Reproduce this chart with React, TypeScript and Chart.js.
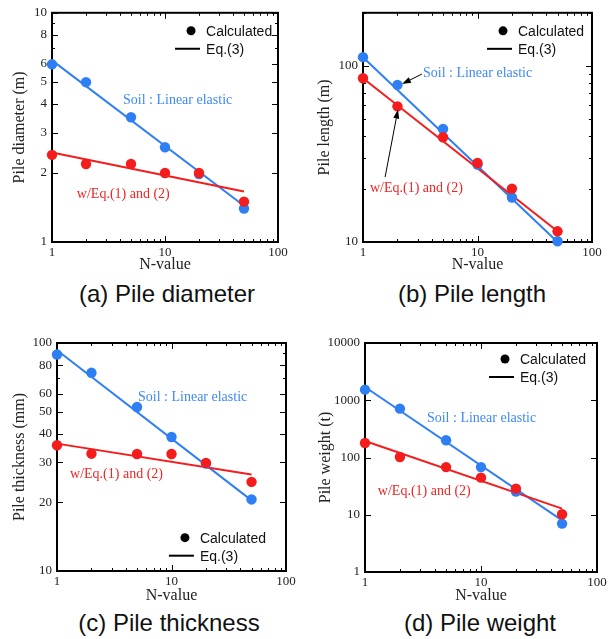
import React, { useEffect, useRef } from 'react';
import { Chart, registerables } from 'chart.js';

Chart.register(...registerables);

// ---------- data ----------
const nValues = [1, 2, 5, 10, 20, 50];
const fitN = [1, 50];

// (a) Pile diameter (m)
const diaLinear = [5.96, 4.98, 3.5, 2.59, 1.98, 1.4];
const diaEq = [2.4, 2.19, 2.19, 2.0, 2.0, 1.5];
const diaLinearFit = [6.2, 1.44];
const diaEqFit = [2.46, 1.66];
const diaTicks = [1, 2, 3, 4, 5, 6, 7, 8, 9, 10];
const diaLabels = [1, 2, 3, 4, 5, 6, 8, 10];

// (b) Pile length (m)
const lenLinear = [112, 78, 43.8, 27.5, 17.9, 10.1];
const lenEq = [85, 58.9, 39.3, 28.1, 20.1, 11.5];
const lenLinearFit = [112, 10.0];
const lenEqFit = [85, 11.5];
const lenTicks = [10, 20, 30, 40, 50, 60, 70, 80, 90, 100, 200];
const lenLabels = [10, 100];

// (c) Pile thickness (mm)
const thkLinear = [89, 74, 52.4, 38.7, 29.6, 20.6];
const thkEq = [35.6, 32.7, 32.6, 32.6, 29.8, 24.6];
const thkLinearFit = [92.9, 20.4];
const thkEqFit = [36.2, 26.5];
const thkTicks = [10, 20, 30, 40, 50, 60, 70, 80, 90, 100];
const thkLabels = [10, 20, 30, 40, 50, 60, 80, 100];

// (d) Pile weight (t)
const wgtLinear = [1531, 713, 200, 68, 25.5, 7.0];
const wgtEq = [179, 102, 68, 44.5, 28.6, 10.2];
const wgtLinearFit = [1703, 8.0];
const wgtEqFit = [194, 12.8];
const wgtTicks = [1, 10, 100, 1000, 10000];
const wgtLabels = [1, 10, 100, 1000, 10000];

const xTicks = [1, 2, 3, 4, 5, 6, 7, 8, 9, 10, 20, 30, 40, 50, 60, 70, 80, 90, 100];
const xLabels = [1, 10, 100];

const soilText = 'Soil : Linear elastic';
const eqText = 'w/Eq.(1) and (2)';
const legendTexts = ['Calculated', 'Eq.(3)'];

// ---------- styles ----------
const BLUE = '#2f7ff4';
const RED = '#f41c1c';
const BLUE_TEXT = '#3f89f2';
const RED_TEXT = '#ef2424';
const SERIF = '"Liberation Serif", "Times New Roman", serif';
const SANS = '"Liberation Sans", Arial, sans-serif';

type Pt = [number, number];
interface PanelCfg {
  key: string;
  left: number;
  top: number;
  width: number;
  height: number;
  pad: { left: number; top: number; right: number; bottom: number };
  yWidth: number;
  xHeight: number;
  yTitlePad: number;
  xTitlePad: number;
  yTitle: string;
  yMin: number;
  yMax: number;
  yTicks: number[];
  yLabels: number[];
  blue: number[];
  red: number[];
  blueFit: number[];
  redFit: number[];
  soilAt: Pt;
  eqAt: Pt;
  legendAt: Pt;
  arrows: { from: Pt; to: Pt }[];
  caption: string;
  capX: number;
  capY: number;
}

const panels: PanelCfg[] = [
  {
    key: 'a', left: 0, top: 0, width: 305, height: 275,
    pad: { left: 0, top: 12, right: 27, bottom: 0 }, yWidth: 52, xHeight: 33, yTitlePad: 10, xTitlePad: 1,
    yTitle: 'Pile diameter (m)', yMin: 1, yMax: 10, yTicks: diaTicks, yLabels: diaLabels,
    blue: diaLinear, red: diaEq, blueFit: diaLinearFit, redFit: diaEqFit,
    soilAt: [4.25, 4.14], eqAt: [1.66, 1.62], legendAt: [17.0, 8.35], arrows: [],
    caption: '(a) Pile diameter', capX: 167, capY: 294,
  },
  {
    key: 'b', left: 305, top: 0, width: 306, height: 275,
    pad: { left: 0, top: 10, right: 19, bottom: 0 }, yWidth: 58, xHeight: 33, yTitlePad: 10, xTitlePad: 1,
    yTitle: 'Pile length (m)', yMin: 10, yMax: 200, yTicks: lenTicks, yLabels: lenLabels,
    blue: lenLinear, red: lenEq, blueFit: lenLinearFit, redFit: lenEqFit,
    soilAt: [3.34, 91], eqAt: [1.15, 20.1], legendAt: [16.7, 158],
    arrows: [
      { from: [3.27, 89.8], to: [2.19, 78.9] },
      { from: [1.56, 23.4], to: [2.02, 56.5] },
    ],
    caption: '(b) Pile length', capX: 472, capY: 294,
  },
  {
    key: 'c', left: 0, top: 320, width: 305, height: 285,
    pad: { left: 0, top: 23, right: 19, bottom: 0 }, yWidth: 57, xHeight: 34, yTitlePad: 10, xTitlePad: 0,
    yTitle: 'Pile thickness (mm)', yMin: 10, yMax: 100, yTicks: thkTicks, yLabels: thkLabels,
    blue: thkLinear, red: thkEq, blueFit: thkLinearFit, redFit: thkEqFit,
    soilAt: [5.1, 58], eqAt: [1.3, 26.6], legendAt: [13.1, 14.0], arrows: [],
    caption: '(c) Pile thickness', capX: 169, capY: 623,
  },
  {
    key: 'd', left: 305, top: 320, width: 306, height: 285,
    pad: { left: 0, top: 23, right: 14, bottom: 0 }, yWidth: 60, xHeight: 33, yTitlePad: 11, xTitlePad: 0,
    yTitle: 'Pile weight (t)', yMin: 1, yMax: 10000, yTicks: wgtTicks, yLabels: wgtLabels,
    blue: wgtLinear, red: wgtEq, blueFit: wgtLinearFit, redFit: wgtEqFit,
    soilAt: [3.42, 490], eqAt: [1.29, 26], legendAt: [16.1, 5250], arrows: [],
    caption: '(d) Pile weight', capX: 480, capY: 623,
  },
];

function toPts(xs: number[], ys: number[]) {
  return xs.map((x, i) => ({ x, y: ys[i] }));
}

function makePlugin(p: PanelCfg) {
  return {
    id: 'frame_' + p.key,
    beforeDatasetsDraw(chart: any) {
      const { ctx, chartArea: a, scales } = chart;
      const xs = scales.x;
      const ys = scales.y;
      ctx.save();
      ctx.strokeStyle = '#000';
      ctx.lineWidth = 1;
      ctx.beginPath();
      xs.ticks.forEach((t: any) => {
        const px = Math.round(xs.getPixelForValue(t.value)) + 0.5;
        const len = t.label ? 6 : 3;
        ctx.moveTo(px, a.bottom);
        ctx.lineTo(px, a.bottom - len);
        ctx.moveTo(px, a.top);
        ctx.lineTo(px, a.top + len);
      });
      ys.ticks.forEach((t: any) => {
        const py = Math.round(ys.getPixelForValue(t.value)) + 0.5;
        const len = t.label ? 6 : 3;
        ctx.moveTo(a.left, py);
        ctx.lineTo(a.left + len, py);
        ctx.moveTo(a.right, py);
        ctx.lineTo(a.right - len, py);
      });
      ctx.stroke();
      ctx.lineWidth = 2;
      ctx.strokeRect(a.left, a.top, a.right - a.left, a.bottom - a.top);
      ctx.restore();
    },
    afterDatasetsDraw(chart: any) {
      const { ctx, scales } = chart;
      const xs = scales.x;
      const ys = scales.y;
      const px = (pt: Pt) => [xs.getPixelForValue(pt[0]), ys.getPixelForValue(pt[1])];
      ctx.save();
      // annotations
      ctx.font = `14px ${SERIF}`;
      ctx.textBaseline = 'middle';
      ctx.textAlign = 'left';
      const [sx, sy] = px(p.soilAt);
      ctx.fillStyle = BLUE_TEXT;
      ctx.fillText(soilText, sx, sy);
      const [ex, ey] = px(p.eqAt);
      ctx.fillStyle = RED_TEXT;
      ctx.fillText(eqText, ex, ey);
      // arrows
      ctx.strokeStyle = '#000';
      ctx.fillStyle = '#000';
      ctx.lineWidth = 1;
      p.arrows.forEach((ar) => {
        const [x0, y0] = px(ar.from);
        const [x1, y1] = px(ar.to);
        const ang = Math.atan2(y1 - y0, x1 - x0);
        const hl = 9;
        const hw = 3;
        const bx = x1 - hl * Math.cos(ang);
        const by = y1 - hl * Math.sin(ang);
        ctx.beginPath();
        ctx.moveTo(x0, y0);
        ctx.lineTo(bx, by);
        ctx.stroke();
        ctx.beginPath();
        ctx.moveTo(x1, y1);
        ctx.lineTo(bx + hw * Math.sin(ang), by - hw * Math.cos(ang));
        ctx.lineTo(bx - hw * Math.sin(ang), by + hw * Math.cos(ang));
        ctx.closePath();
        ctx.fill();
      });
      // legend
      const [lx, ly] = px(p.legendAt);
      ctx.fillStyle = '#000';
      ctx.beginPath();
      ctx.arc(lx, ly, 4.5, 0, Math.PI * 2);
      ctx.fill();
      ctx.lineWidth = 2;
      ctx.beginPath();
      ctx.moveTo(lx - 16, ly + 18);
      ctx.lineTo(lx + 9, ly + 18);
      ctx.stroke();
      ctx.font = `14px ${SANS}`;
      ctx.fillStyle = '#111';
      ctx.fillText(legendTexts[0], lx + 15, ly + 1);
      ctx.fillText(legendTexts[1], lx + 15, ly + 19);
      ctx.restore();
    },
  };
}

function Panel({ p }: { p: PanelCfg }) {
  const ref = useRef<HTMLCanvasElement>(null);
  useEffect(() => {
    if (!ref.current) return;
    const xLabelSet = new Set(xLabels);
    const yLabelSet = new Set(p.yLabels);
    const chart = new Chart(ref.current, {
      type: 'scatter',
      data: {
        datasets: [
          {
            label: 'red calc', data: toPts(nValues, p.red), showLine: false,
            pointRadius: 5.2, pointBackgroundColor: RED, pointBorderWidth: 0, backgroundColor: RED, clip: false as any,
          },
          {
            label: 'blue calc', data: toPts(nValues, p.blue), showLine: false,
            pointRadius: 5.2, pointBackgroundColor: BLUE, pointBorderWidth: 0, backgroundColor: BLUE, clip: false as any,
          },
          {
            label: 'red fit', data: toPts(fitN, p.redFit), showLine: true,
            borderColor: RED, borderWidth: 2, pointRadius: 0, clip: false as any,
          },
          {
            label: 'blue fit', data: toPts(fitN, p.blueFit), showLine: true,
            borderColor: BLUE, borderWidth: 2, pointRadius: 0, clip: false as any,
          },
        ],
      },
      options: {
        responsive: false,
        animation: false,
        devicePixelRatio: 1,
        layout: { padding: p.pad },
        plugins: { legend: { display: false }, tooltip: { enabled: false }, title: { display: false } },
        scales: {
          x: {
            type: 'logarithmic', min: 1, max: 100,
            grid: { display: false, drawTicks: false },
            border: { display: false },
            afterBuildTicks: (s: any) => { s.ticks = xTicks.map((v) => ({ value: v })); },
            afterFit: (s: any) => { s.height = p.xHeight; },
            ticks: {
              autoSkip: false, maxRotation: 0, padding: 3, color: '#222',
              font: { family: SERIF, size: 13 },
              callback: (v: any) => (xLabelSet.has(Number(v)) ? String(v) : ''),
            },
            title: {
              display: true, text: 'N-value', color: '#222',
              font: { family: SERIF, size: 16 }, padding: { top: 0, bottom: p.xTitlePad },
            },
          },
          y: {
            type: 'logarithmic', min: p.yMin, max: p.yMax,
            grid: { display: false, drawTicks: false },
            border: { display: false },
            afterBuildTicks: (s: any) => { s.ticks = p.yTicks.map((v) => ({ value: v })); },
            afterFit: (s: any) => { s.width = p.yWidth; },
            ticks: {
              autoSkip: false, padding: 5, color: '#222',
              font: { family: SERIF, size: 13 },
              callback: (v: any) => (yLabelSet.has(Number(v)) ? String(v) : ''),
            },
            title: {
              display: true, text: p.yTitle, color: '#222',
              font: { family: SERIF, size: 16 }, padding: { top: p.yTitlePad, bottom: 0 },
            },
          },
        },
      },
      plugins: [makePlugin(p)],
    } as any);
    return () => chart.destroy();
  }, [p]);
  return (
    <div style={{ position: 'absolute', left: p.left, top: p.top, width: p.width, height: p.height }}>
      <canvas ref={ref} width={p.width} height={p.height} style={{ display: 'block' }} />
    </div>
  );
}

export default function App() {
  return (
    <div style={{ position: 'fixed', left: 0, top: 0, width: 611, height: 639, background: '#fff', overflow: 'hidden' }}>
      {panels.map((p) => (
        <Panel key={p.key} p={p} />
      ))}
      {panels.map((p) => (
        <div
          key={'cap' + p.key}
          style={{
            position: 'absolute', left: p.capX - 150, top: p.capY - 14, width: 300, height: 28,
            lineHeight: '28px', textAlign: 'center', fontFamily: SANS, fontSize: 24, color: '#111',
            whiteSpace: 'nowrap',
          }}
        >
          {p.caption}
        </div>
      ))}
    </div>
  );
}
